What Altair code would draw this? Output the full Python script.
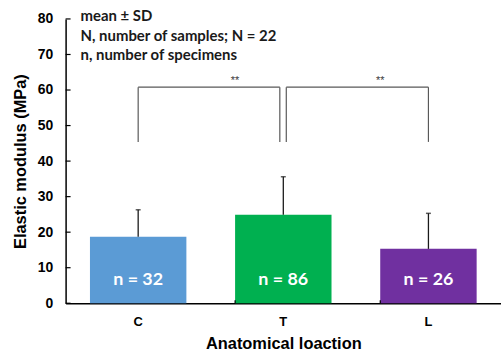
import altair as alt
import pandas as pd

categories = ["C", "T", "L"]
means = [18.7, 24.9, 15.3]
sds = [7.6, 10.7, 10.0]
n_labels = ["n = 32", "n = 86", "n = 26"]
bar_colors = ["#5B9BD5", "#00B050", "#7030A0"]
y_ticks = [0, 10, 20, 30, 40, 50, 60, 70, 80]
notes = ["mean ± SD", "N, number of samples; N = 22", "n, number of specimens"]
bracket_from = ["C", "T"]
bracket_to = ["T", "L"]
bracket_top = 60.8
bracket_bottom = 45.4
star_text = "**"
star_y = 62.6
label_y = 6.5

df = pd.DataFrame({
    "cat": categories,
    "mean": means,
    "upper": [m + s for m, s in zip(means, sds)],
    "label": n_labels,
    "ly": [label_y] * 3,
})

xscale = alt.Scale(domain=categories, paddingInner=0.336, paddingOuter=0.168)
yscale = alt.Scale(domain=[0, 80], nice=False)

xaxis = alt.Axis(title="Anatomical loaction", labelAngle=0, ticks=False,
                 labelFont="Liberation Sans", labelFontWeight="bold", labelFontSize=13,
                 labelColor="black", labelPadding=12,
                 titleFont="Liberation Sans", titleFontWeight="bold", titleFontSize=16.5,
                 titleColor="black", titlePadding=8,
                 domainColor="black", domainWidth=1.5)
yaxis = alt.Axis(title="Elastic modulus (MPa)", values=y_ticks, ticks=False, grid=False,
                 labelOverlap=False,
                 labelFont="Liberation Sans", labelFontWeight="bold", labelFontSize=14,
                 labelColor="black", labelPadding=13,
                 titleFont="Liberation Sans", titleFontWeight="bold", titleFontSize=16.5,
                 titleColor="black", titlePadding=9,
                 domainColor="black", domainWidth=1.5)


def xs(field, **kw):
    return alt.X(field, scale=xscale, sort=categories, axis=xaxis, **kw)


def ys(field):
    return alt.Y(field, scale=yscale, axis=yaxis)


base = alt.Chart(df)

bars = base.mark_bar(size=97).encode(
    x=xs("cat:N"), y=ys("mean:Q"),
    color=alt.Color("cat:N", scale=alt.Scale(domain=categories, range=bar_colors), legend=None),
)

err = base.mark_rule(color="#1a1a1a", strokeWidth=1.3).encode(
    x=xs("cat:N"), y=ys("mean:Q"), y2="upper:Q")

cap = base.mark_tick(color="#1a1a1a", size=5, thickness=1.5, orient="horizontal").encode(
    x=xs("cat:N"), y=ys("upper:Q"))

nlab = base.mark_text(fill="white", font="Lato", fontWeight="bold", fontSize=18,
                      baseline="middle").encode(
    x=xs("cat:N"), y=ys("ly:Q"), text="label:N")

# y ticks pointing inward
ytick_df = pd.DataFrame({"v": y_ticks})
yticks = alt.Chart(ytick_df).mark_rule(color="black", strokeWidth=1.2).encode(
    y=ys("v:Q"), x=alt.value(0), x2=alt.value(5))

# x ticks between categories, pointing inward
xtick_df = pd.DataFrame({"cat": categories[1:]})
xticks = alt.Chart(xtick_df).mark_rule(color="black", strokeWidth=1.2).encode(
    x=xs("cat:N", bandPosition=0), y=alt.value(283), y2=alt.value(286))

# significance brackets
br_df = pd.DataFrame({"a": bracket_from, "b": bracket_to,
                      "top": [bracket_top] * 2, "bot": [bracket_bottom] * 2})
bracket_layers = []
for i, (dxa, dxb) in enumerate([(0, -3.5), (3, 0)]):
    d = br_df.iloc[[i]]
    c = alt.Chart(d)
    hor = c.mark_rule(color="#595959", strokeWidth=1.2, xOffset=dxa, x2Offset=dxb).encode(
        x=xs("a:N"), x2="b:N", y=ys("top:Q"))
    va = c.mark_rule(color="#595959", strokeWidth=1.2, xOffset=dxa).encode(
        x=xs("a:N"), y=ys("bot:Q"), y2="top:Q")
    vb = c.mark_rule(color="#595959", strokeWidth=1.2, xOffset=dxb).encode(
        x=xs("b:N"), y=ys("bot:Q"), y2="top:Q")
    bracket_layers += [hor, va, vb]

star_df = pd.DataFrame({"cat": categories[1:], "s": [star_text] * 2, "y": [star_y] * 2})
stars = alt.Chart(star_df).mark_text(fill="#404040", font="Liberation Sans", fontSize=11,
                                     baseline="middle").encode(
    x=xs("cat:N", bandPosition=0), y=ys("y:Q"), text="s:N")

note_df = pd.DataFrame({"t": notes, "py": [-3, 17, 36]})
note = alt.Chart(note_df).mark_text(fill="#1a1a1a", font="Lato", fontWeight="bold", fontSize=15,
                                    align="left", baseline="middle").encode(
    x=alt.value(15), y=alt.Y("py:Q", scale=None), text="t:N")

chart = alt.layer(bars, err, cap, nlab, yticks, xticks, *bracket_layers, stars, note).properties(
    width=438, height=286,
    padding={"left": 66, "top": 18, "right": 0, "bottom": 50},
    autosize=alt.AutoSizeParams(type="none"),
    background="white",
).configure_view(stroke=None)

chart.save("out.html", embed_options={"renderer": "svg", "actions": False})
